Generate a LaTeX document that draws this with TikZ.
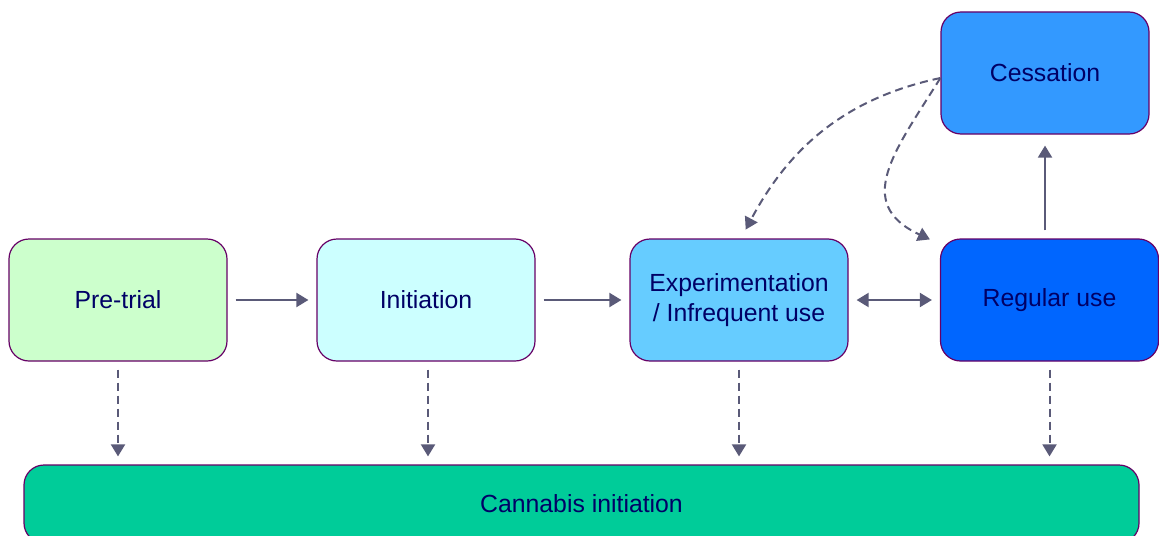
\documentclass[tikz,border=0pt]{standalone}
\usepackage{fontspec}
\setmainfont{Liberation Sans}
\usetikzlibrary{arrows.meta}

\definecolor{boxline}{HTML}{660066}
\definecolor{boxtext}{HTML}{000066}
\definecolor{arrowcol}{HTML}{5A5A78}

\begin{document}
\begin{tikzpicture}[x=0.5pt, y=-0.5pt,
    stage/.style={draw=boxline, line width=0.6pt, rounded corners=10pt,
      minimum width=109pt, minimum height=61pt, align=center,
      text=boxtext, font=\fontsize{12.4}{15}\selectfont},
    flow/.style={arrowcol, line width=1pt, -{Triangle[width=7pt,length=6pt]},
      shorten <=4pt, shorten >=4pt},
    leak/.style={flow, dashed, dash pattern=on 4pt off 2.5pt}]
    \useasboundingbox (0,0) rectangle (1159,535);
    \clip (0,0) rectangle (1159,535);

    \node[stage, fill={rgb,255:red,204;green,255;blue,204}] (pretrial) at (118,300) {Pre-trial};
    \node[stage, fill={rgb,255:red,204;green,255;blue,255}] (init) at (426,300) {Initiation};
    \node[stage, fill={rgb,255:red,102;green,204;blue,255}] (exper) at (739,300) {Experimentation\\/ Infrequent use};
    \node[stage, fill={rgb,255:red,0;green,102;blue,255}] (regular) at (1049.5,300) {Regular use};
    \node[stage, fill={rgb,255:red,51;green,153;blue,255}, minimum width=104pt] (cess) at (1045,73) {Cessation};
    \node[stage, fill={rgb,255:red,0;green,204;blue,153}, minimum width=557.5pt, minimum height=39pt] (cannabis) at (581.5,504) {Cannabis initiation};

    \coordinate (back) at ([yshift=-2.5pt]cess.west);

    \draw[flow] (pretrial) -- (init);
    \draw[flow] (init) -- (exper);
    \draw[flow, {Triangle[width=7pt,length=6pt]}-{Triangle[width=7pt,length=6pt]}] (exper) -- (regular);
    \draw[flow, shorten >=5.5pt] (cess.south |- regular.north) -- (cess.south);

    \draw[leak, shorten <=0pt, shorten >=5pt] (back) to[out=192, in=62] ([xshift=1pt]exper.north);
    \draw[leak, shorten <=0pt, shorten >=0pt] (back) to[out=238, in=155, looseness=1.35] ([xshift=-5pt, yshift=-0.5pt]regular.north west);

    \draw[leak] (pretrial) -- (pretrial |- cannabis.north);
    \draw[leak] ([xshift=1pt]init.south) -- ([xshift=1pt]init.south |- cannabis.north);
    \draw[leak] (exper) -- (exper |- cannabis.north);
    \draw[leak] (regular) -- (regular |- cannabis.north);
  \end{tikzpicture}
\end{document}
